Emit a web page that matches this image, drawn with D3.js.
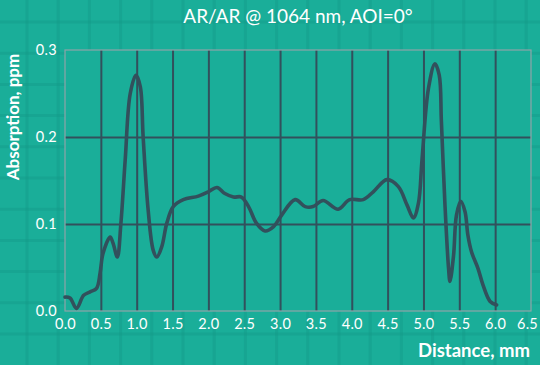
<!DOCTYPE html>
<html>
<head>
<meta charset="utf-8">
<script src="https://cdn.jsdelivr.net/npm/d3@7"></script>
<style>
  html, body { margin: 0; padding: 0; background: #1aae99; }
  svg { display: block; }
  text { font-family: Lato, "Open Sans", sans-serif; fill: #fff; }
</style>
</head>
<body>
<svg id="chart" width="540" height="365"></svg>
<script>
// absorption scan
var distance = [0.0, 0.07, 0.16, 0.26, 0.35, 0.44, 0.49, 0.53, 0.63, 0.67, 0.73, 0.78, 0.84, 0.91, 0.99,
  1.05, 1.09, 1.16, 1.23, 1.28, 1.35, 1.42, 1.51, 1.65, 1.86, 2.0, 2.12, 2.23, 2.35, 2.46, 2.56,
  2.67, 2.79, 2.91, 3.02, 3.21, 3.35, 3.46, 3.60, 3.81, 3.97, 4.16, 4.30, 4.49, 4.65, 4.77, 4.86,
  4.93, 4.98, 5.07, 5.16, 5.22, 5.25, 5.30, 5.35, 5.37, 5.42, 5.46, 5.52, 5.58, 5.62, 5.67, 5.76,
  5.83, 5.93, 6.02];
var absorption = [0.016, 0.015, 0.003, 0.018, 0.022, 0.026, 0.044, 0.066, 0.085, 0.078, 0.062, 0.101, 0.174, 0.250, 0.271,
  0.258, 0.200, 0.116, 0.070, 0.062, 0.074, 0.101, 0.120, 0.128, 0.132, 0.137, 0.142, 0.135, 0.131, 0.131, 0.120,
  0.101, 0.092, 0.097, 0.110, 0.128, 0.120, 0.120, 0.127, 0.117, 0.128, 0.128, 0.137, 0.151, 0.143, 0.122, 0.107,
  0.124, 0.174, 0.256, 0.284, 0.271, 0.218, 0.122, 0.049, 0.034, 0.064, 0.110, 0.126, 0.114, 0.087, 0.068, 0.049,
  0.030, 0.011, 0.007];
var xTicks = [0, 0.5, 1, 1.5, 2, 2.5, 3, 3.5, 4, 4.5, 5, 5.5, 6, 6.5];
var yTicks = [0, 0.1, 0.2, 0.3];

var svg = d3.select("#chart");
var W = 540, H = 365;
var margin = { top: 50, right: 9, bottom: 54, left: 65 };
var pw = W - margin.left - margin.right, ph = H - margin.top - margin.bottom;

// faint tile texture on the background
var tex = svg.append("g");
for (var gx = 27; gx < W; gx += 31.2) {
  tex.append("line").attr("x1", gx).attr("x2", gx).attr("y1", 0).attr("y2", H)
    .attr("stroke", "#149886").attr("stroke-opacity", 0.4).attr("stroke-width", 3);
}
for (var gy = 22; gy < H; gy += 31.2) {
  tex.append("line").attr("y1", gy).attr("y2", gy).attr("x1", 0).attr("x2", W)
    .attr("stroke", "#149886").attr("stroke-opacity", 0.4).attr("stroke-width", 3);
}

var x = d3.scaleLinear().domain([0, 6.5]).range([0, pw]);
var y = d3.scaleLinear().domain([0, 0.3]).range([ph, 0]);

var g = svg.append("g").attr("transform", "translate(" + margin.left + "," + margin.top + ")");
g.append("rect").attr("width", pw).attr("height", ph).attr("fill", "#1aae99");

// grid
g.append("g")
  .call(d3.axisBottom(x).tickValues(xTicks.filter(function (d) { return d > 0 && d < 6.5; }))
    .tickSize(-ph).tickFormat(""))
  .attr("transform", "translate(0," + ph + ")")
  .call(function (s) { s.select(".domain").remove(); })
  .selectAll("line").attr("stroke", "#32505c").attr("stroke-width", 2);
g.append("g")
  .call(d3.axisLeft(y).tickValues(yTicks.filter(function (d) { return d > 0 && d < 0.3; }))
    .tickSize(-pw).tickFormat(""))
  .call(function (s) { s.select(".domain").remove(); })
  .selectAll("line").attr("stroke", "#32505c").attr("stroke-width", 2);

g.append("rect").attr("width", pw).attr("height", ph)
  .attr("fill", "none").attr("stroke", "#8fa3a8").attr("stroke-width", 1.2);

// tick labels
var xa = g.append("g").attr("transform", "translate(0," + ph + ")")
  .call(d3.axisBottom(x).tickValues(xTicks).tickSize(0).tickPadding(8).tickFormat(d3.format(".1f")));
xa.select(".domain").remove();
xa.selectAll("text").attr("font-size", 14.5).attr("fill", "#fff")
  .style("font-family", "Lato, sans-serif").style("letter-spacing", "0.3px")
  .attr("dx", function (d) { return d === 6.5 ? -4 : 0; });

var ya = g.append("g")
  .call(d3.axisLeft(y).tickValues(yTicks).tickSize(0).tickPadding(8).tickFormat(d3.format(".1f")));
ya.select(".domain").remove();
ya.selectAll("text").attr("font-size", 14.5).attr("fill", "#fff")
  .style("font-family", "Lato, sans-serif").style("letter-spacing", "0.3px");

// curve
var pts = distance.map(function (d, i) { return [d, absorption[i]]; });
var line = d3.line()
  .x(function (d) { return x(d[0]); })
  .y(function (d) { return y(d[1]); })
  .curve(d3.curveCatmullRom.alpha(0.5));
g.append("path").datum(pts)
  .attr("d", line)
  .attr("fill", "none")
  .attr("stroke", "#32505c")
  .attr("stroke-width", 3.6)
  .attr("stroke-linejoin", "round")
  .attr("stroke-linecap", "round");

// titles
svg.append("text").attr("x", margin.left + pw / 2).attr("y", 23)
  .attr("text-anchor", "middle").attr("font-size", 19)
  .text("AR/AR @ 1064 nm, AOI=0°");
svg.append("text").attr("transform", "translate(19,117) rotate(-90)")
  .attr("text-anchor", "middle").attr("font-size", 17).attr("font-weight", "bold")
  .text("Absorption, ppm");
svg.append("text").attr("x", 530).attr("y", 357)
  .attr("text-anchor", "end").attr("font-size", 18.5).attr("font-weight", "bold")
  .text("Distance, mm");
</script>
</body>
</html>
